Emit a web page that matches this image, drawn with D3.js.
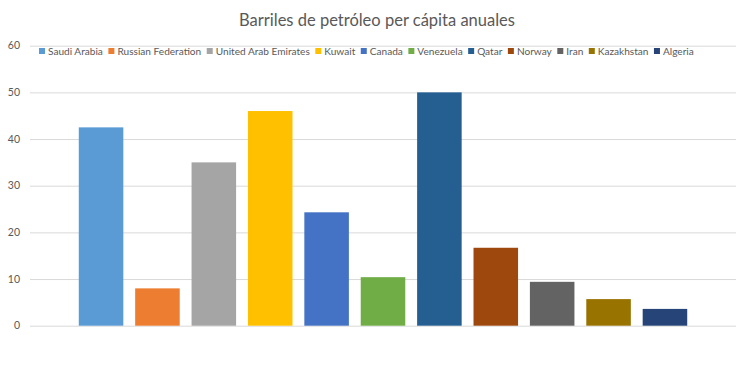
<html>
  <head>
    <script src="https://d3js.org/d3.v7.min.js"></script>
    <style>
      body {
        margin: 0;
        background: white;
      }
      text {
        font-family: Lato, "Open Sans", sans-serif;
        fill: #595959;
      }
      .gridlines line {
        stroke: #d9d9d9;
      }
      .gridlines .domain {
        stroke: none;
      }
    </style>
  </head>

  <body>
    <svg id="chart" width="750" height="368"></svg>

    <script>
      // countries, values and colours
      const countries = [
        "Saudi Arabia",
        "Russian Federation",
        "United Arab Emirates",
        "Kuwait",
        "Canada",
        "Venezuela",
        "Qatar",
        "Norway",
        "Iran",
        "Kazakhstan",
        "Algeria",
      ];
      const barrels = [42.5, 8.0, 35.0, 46.0, 24.3, 10.4, 50.0, 16.7, 9.4, 5.7, 3.6];
      const colors = [
        "#5b9bd5",
        "#ed7d31",
        "#a5a5a5",
        "#ffc000",
        "#4472c4",
        "#70ad47",
        "#255e91",
        "#9e480e",
        "#636363",
        "#997300",
        "#264478",
      ];
      const yTicks = [0, 10, 20, 30, 40, 50, 60];

      const data = countries.map((c, i) => ({ name: c, value: barrels[i], color: colors[i] }));

      const svg = d3.select("svg#chart");

      const x = d3
        .scaleBand()
        .domain(countries)
        .range([30, 736])
        .paddingInner(0.21)
        .paddingOuter(0.865);

      const y = d3.scaleLinear().domain([0, 60]).range([325.7, 45.7]);

      // gridlines
      svg
        .append("g")
        .attr("class", "gridlines")
        .attr("transform", "translate(30,0)")
        .call(d3.axisLeft(y).tickValues(yTicks).tickSize(-706).tickFormat(""));

      // tick labels
      svg
        .selectAll("text.ytick")
        .data(yTicks)
        .join("text")
        .attr("class", "ytick")
        .attr("x", 20)
        .attr("y", (d) => y(d))
        .attr("dy", "0.35em")
        .attr("text-anchor", "end")
        .style("font-size", "10.5px")
        .text((d) => d);

      // bars
      svg
        .selectAll("rect.bar")
        .data(data)
        .join("rect")
        .attr("class", "bar")
        .attr("x", (d) => x(d.name))
        .attr("y", (d) => y(d.value))
        .attr("width", x.bandwidth())
        .attr("height", (d) => y(0) - y(d.value))
        .attr("fill", (d) => d.color);

      // title
      svg
        .append("text")
        .attr("x", 377)
        .attr("y", 26)
        .attr("text-anchor", "middle")
        .style("font-size", "16.5px")
        .text("Barriles de petróleo per cápita anuales");

      // legend, laid out one after the other
      const legend = svg.append("g").attr("transform", "translate(39,51)");
      let lx = 0;
      data.forEach((d) => {
        const item = legend.append("g").attr("transform", `translate(${lx},0)`);
        item
          .append("rect")
          .attr("x", 0)
          .attr("y", -3)
          .attr("width", 6)
          .attr("height", 6)
          .attr("fill", d.color);
        const t = item
          .append("text")
          .attr("x", 9)
          .attr("dy", "0.35em")
          .style("font-size", "10.1px")
          .text(d.name);
        lx += 9 + t.node().getComputedTextLength() + 5.5;
      });
    </script>
  </body>
</html>
